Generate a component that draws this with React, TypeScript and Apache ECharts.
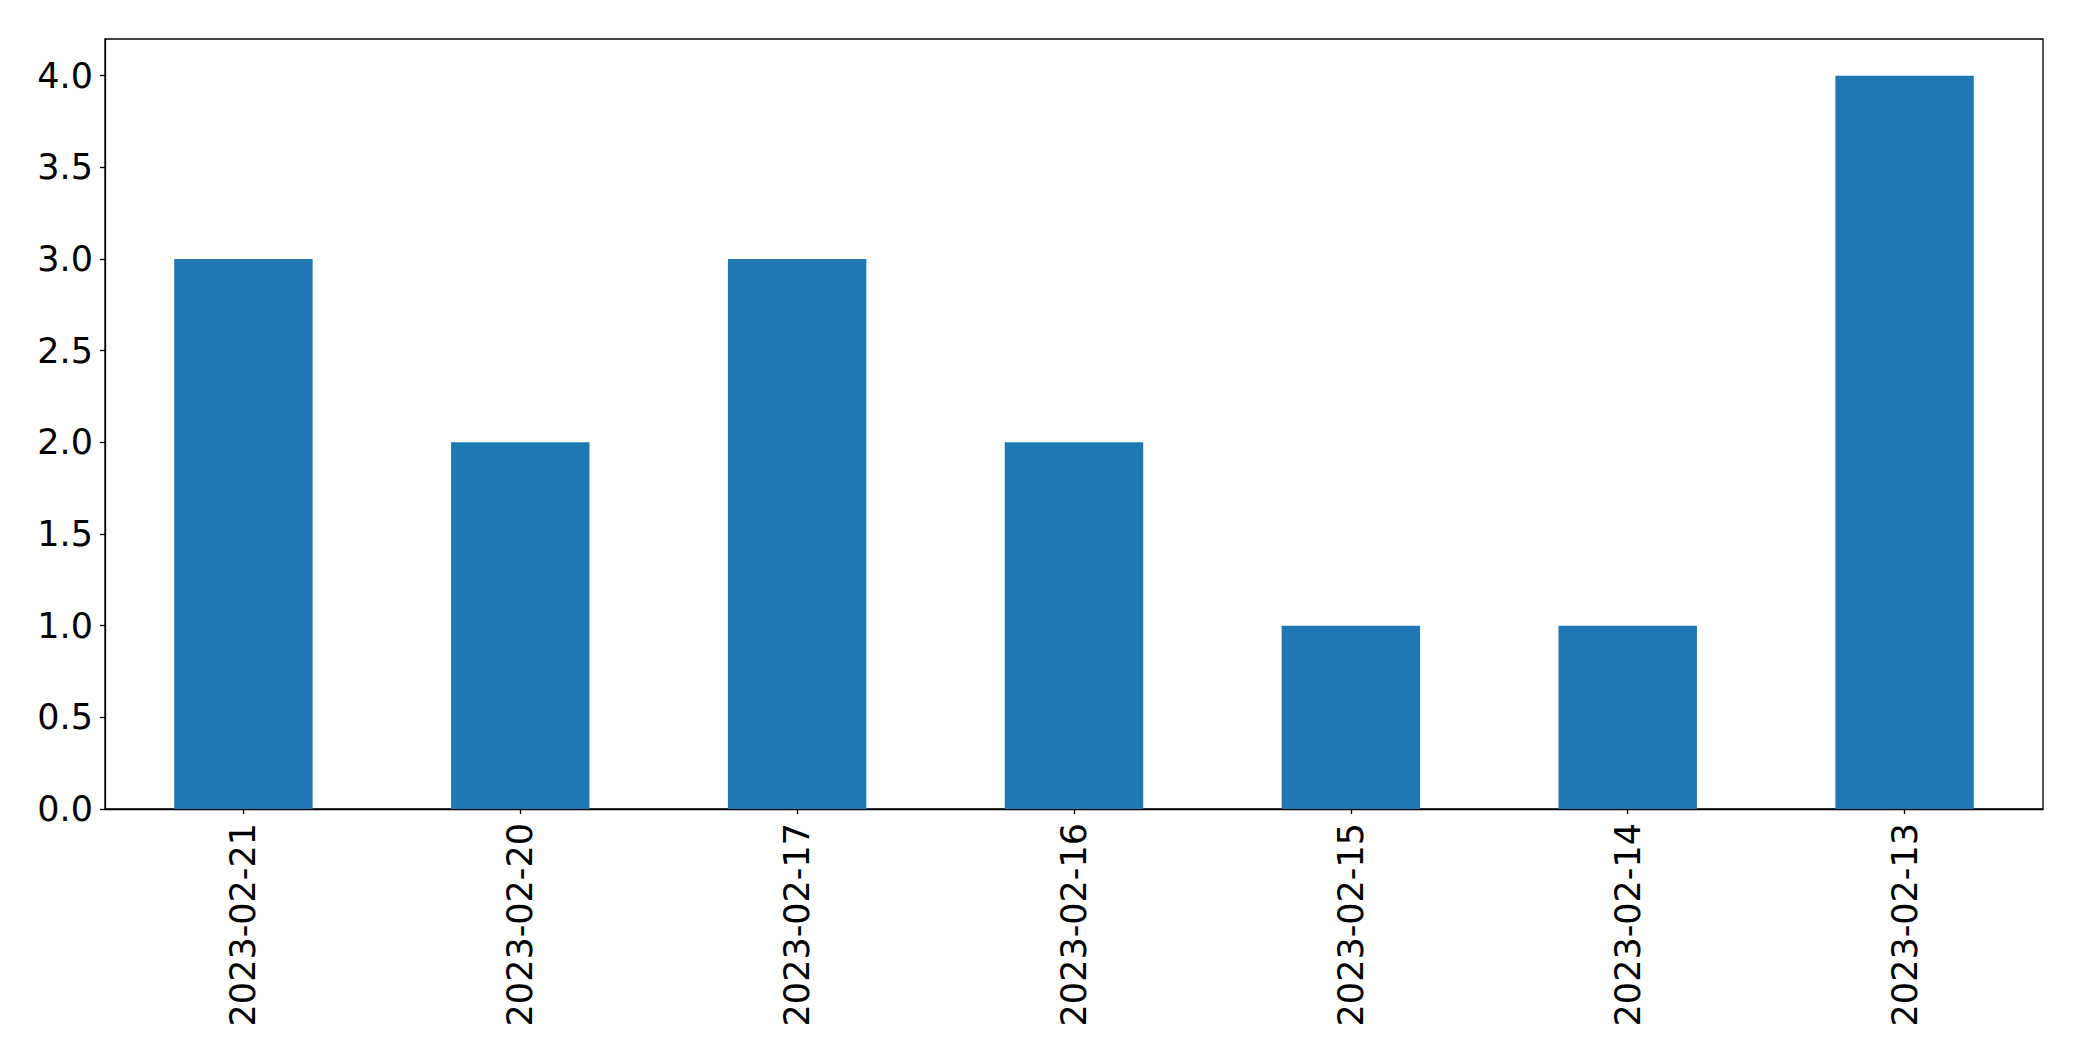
import React, { useEffect, useRef } from "react";
import * as echarts from "echarts";

const categories = ["2023-02-21", "2023-02-20", "2023-02-17", "2023-02-16", "2023-02-15", "2023-02-14", "2023-02-13"];
const values = [3, 2, 3, 2, 1, 1, 4];
const yTicks = [0, 0.5, 1.0, 1.5, 2.0, 2.5, 3.0, 3.5, 4.0];

export default function App() {
  const ref = useRef<HTMLDivElement>(null);
  useEffect(() => {
    if (!ref.current) return;
    const chart = echarts.init(ref.current, null, { renderer: "svg" });
    const font = "DejaVu Sans";
    chart.setOption({
      animation: false,
      backgroundColor: "#ffffff",
      grid: {
        left: 105,
        top: 39,
        width: 1938,
        height: 770,
        show: true,
        borderColor: "#000000",
        borderWidth: 1.3,
        backgroundColor: "transparent",
      },
      xAxis: {
        type: "category",
        data: categories,
        boundaryGap: true,
        axisLine: { show: true, lineStyle: { color: "#000000", width: 1.3 } },
        axisTick: { show: true, alignWithLabel: true, length: 5, lineStyle: { color: "#000000", width: 1.3 } },
        axisLabel: {
          rotate: 90,
          fontSize: 35,
          fontFamily: font,
          color: "#000000",
          margin: 14,
          interval: 0,
        },
        splitLine: { show: false },
      },
      yAxis: {
        type: "value",
        min: 0,
        max: 4.2,
        axisLine: { show: true, lineStyle: { color: "#000000", width: 1.3 } },
        axisTick: { show: true, length: 5, customValues: yTicks, lineStyle: { color: "#000000", width: 1.3 } },
        axisLabel: {
          customValues: yTicks,
          fontSize: 35,
          fontFamily: font,
          color: "#000000",
          margin: 12,
          formatter: (v: number) => v.toFixed(1),
        },
        splitLine: { show: false },
      },
      series: [
        {
          type: "bar",
          data: values,
          barWidth: "50%",
          itemStyle: { color: "#1f77b4" },
        },
      ],
    });
    return () => chart.dispose();
  }, []);
  return (
    <div
      ref={ref}
      style={{ position: "fixed", left: 0, top: 0, width: 2082, height: 1061, background: "#fff" }}
    />
  );
}
